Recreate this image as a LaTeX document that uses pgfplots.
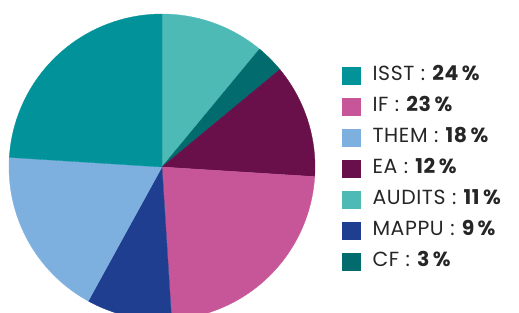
\documentclass[border=0pt]{standalone}
\usepackage{pgfplots}
\usepackage{pgfplotstable}
\pgfplotsset{compat=1.18}
\usepgfplotslibrary{polar}
\usepackage{fontspec}
\setmainfont{Poppins}[LetterSpace=3]
\definecolor{cIsst}{HTML}{02929A}
\definecolor{cIf}{HTML}{C75699}
\definecolor{cThem}{HTML}{7DB0DF}
\definecolor{cEa}{HTML}{69104A}
\definecolor{cAudits}{HTML}{4EBAB5}
\definecolor{cMappu}{HTML}{1F3E8F}
\definecolor{cCf}{HTML}{016B6E}
\pgfplotstableread{
name value color
AUDITS 11 cAudits
CF 3 cCf
EA 12 cEa
IF 23 cIf
MAPPU 9 cMappu
THEM 18 cThem
ISST 24 cIsst
}\piedata
\pgfplotsset{legsq/.style={legend image code/.code={\fill[#1] (0bp,-8.5bp) rectangle (18bp,8.5bp);}}}
\newcommand\sep{\hspace{0.32em}:\hspace{0.32em}}
\begin{document}
\begin{tikzpicture}
\useasboundingbox (0,0) rectangle (519bp,313bp);
\begin{polaraxis}[
  at={(162bp,146bp)}, anchor=origin,
  width=306bp, height=306bp, scale only axis,
  ymin=0, ymax=1, hide axis, clip=false,
  legend cell align=left,
  legend style={draw=none, fill=none, inner sep=0pt, at={(1.088,0.85)}, anchor=north west,
    font=\fontsize{20.5}{24}\selectfont, row sep=0pt,
    nodes={inner sep=0pt, text height=20bp, text depth=11bp, text=black!85},
    /tikz/every odd column/.append style={column sep=12bp}},
]
\pgfplotstablegetrowsof{\piedata}
\pgfmathtruncatemacro\nrows{\pgfplotsretval-1}
\def\cum{90}
\pgfplotsforeachungrouped \i in {0,...,\nrows}{%
  \pgfplotstablegetelem{\i}{value}\of\piedata \let\v\pgfplotsretval
  \pgfplotstablegetelem{\i}{color}\of\piedata \let\c\pgfplotsretval
  \pgfmathsetmacro\endang{\cum-3.6*\v}%
  \edef\temp{\noexpand\addplot[fill=\c, draw=\c, line width=0.3pt, domain=\endang:\cum, samples=80, forget plot] {1} -- (axis cs:0,0) -- cycle;}%
  \temp
  \let\cum\endang
}
\addlegendimage{legsq=cIsst}\addlegendentry{ISST\sep\textbf{24\,\%}}
\addlegendimage{legsq=cIf}\addlegendentry{IF\sep\textbf{23\,\%}}
\addlegendimage{legsq=cThem}\addlegendentry{THEM\sep\textbf{18\,\%}}
\addlegendimage{legsq=cEa}\addlegendentry{EA\sep\textbf{12\,\%}}
\addlegendimage{legsq=cAudits}\addlegendentry{AUDITS\sep\textbf{11\,\%}}
\addlegendimage{legsq=cMappu}\addlegendentry{MAPPU\sep\textbf{9\,\%}}
\addlegendimage{legsq=cCf}\addlegendentry{CF\sep\textbf{3\,\%}}
\end{polaraxis}
\end{tikzpicture}
\end{document}
